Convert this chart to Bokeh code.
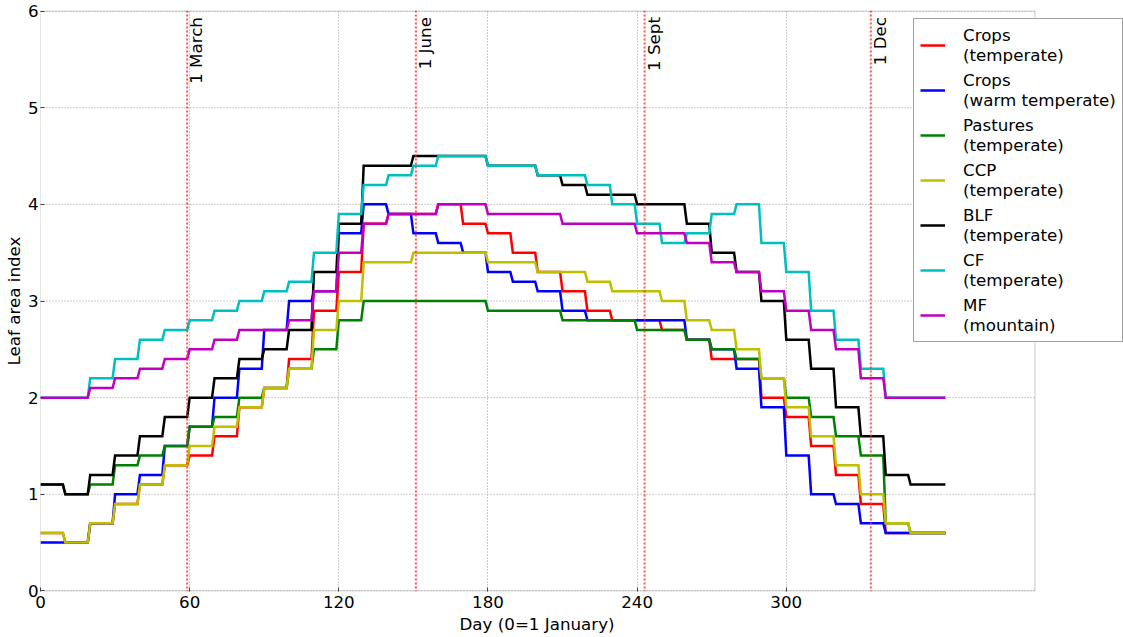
from bokeh.plotting import figure
from bokeh.models import (Span, Label, Legend, LegendItem, FixedTicker, Range1d, Title,
                          BoxAnnotation)
from bokeh.embed import file_html
from bokeh.resources import INLINE

# ---- data: leaf area index per 10-day period (day 0 = 1 January) ----
period_start = [0, 10, 20, 30, 40, 50, 60, 70, 80, 90, 100, 110, 120, 130, 140, 150, 160, 170,
                180, 190, 200, 210, 220, 230, 240, 250, 260, 270, 280, 290, 300, 310, 320, 330,
                340, 350, 360]
last_day = 364

crops_temperate = [0.6, 0.5, 0.7, 0.9, 1.1, 1.3, 1.4, 1.6, 1.9, 2.1, 2.4, 2.9, 3.3, 3.8, 3.9, 3.9, 4.0, 3.8,
                   3.7, 3.5, 3.3, 3.1, 2.9, 2.8, 2.8, 2.7, 2.6, 2.4, 2.4, 2.0, 1.8, 1.5, 1.2, 0.9,
                   0.6, 0.6, 0.6]
crops_warm = [0.5, 0.5, 0.7, 1.0, 1.2, 1.5, 1.7, 2.0, 2.3, 2.7, 3.0, 3.1, 3.7, 4.0, 3.9, 3.7, 3.6, 3.5,
              3.3, 3.2, 3.1, 2.9, 2.8, 2.8, 2.8, 2.8, 2.6, 2.5, 2.3, 1.9, 1.4, 1.0, 0.9, 0.7,
              0.6, 0.6, 0.6]
pastures = [1.1, 1.0, 1.1, 1.3, 1.4, 1.5, 1.7, 1.8, 2.0, 2.1, 2.3, 2.5, 2.8, 3.0, 3.0, 3.0, 3.0, 3.0,
            2.9, 2.9, 2.9, 2.8, 2.8, 2.8, 2.7, 2.7, 2.6, 2.5, 2.4, 2.2, 2.0, 1.8, 1.6, 1.4,
            0.7, 0.6, 0.6]
ccp = [0.6, 0.5, 0.7, 0.9, 1.1, 1.3, 1.5, 1.7, 1.9, 2.1, 2.3, 2.7, 3.0, 3.4, 3.4, 3.5, 3.5, 3.5,
       3.4, 3.4, 3.3, 3.3, 3.2, 3.1, 3.1, 3.0, 2.8, 2.7, 2.5, 2.2, 1.9, 1.6, 1.3, 1.0,
       0.7, 0.6, 0.6]
blf = [1.1, 1.0, 1.2, 1.4, 1.6, 1.8, 2.0, 2.2, 2.4, 2.5, 2.7, 3.3, 3.8, 4.4, 4.4, 4.5, 4.5, 4.5,
       4.4, 4.4, 4.3, 4.2, 4.1, 4.1, 4.0, 4.0, 3.8, 3.5, 3.3, 3.0, 2.6, 2.3, 1.9, 1.6,
       1.2, 1.1, 1.1]
cf = [2.0, 2.0, 2.2, 2.4, 2.6, 2.7, 2.8, 2.9, 3.0, 3.1, 3.2, 3.5, 3.9, 4.2, 4.3, 4.4, 4.5, 4.5,
      4.4, 4.4, 4.3, 4.3, 4.2, 4.0, 3.8, 3.6, 3.7, 3.9, 4.0, 3.6, 3.3, 2.9, 2.6, 2.3,
      2.0, 2.0, 2.0]
mf = [2.0, 2.0, 2.1, 2.2, 2.3, 2.4, 2.5, 2.6, 2.7, 2.7, 2.8, 3.1, 3.5, 3.8, 3.9, 3.9, 4.0, 4.0,
      3.9, 3.9, 3.9, 3.8, 3.8, 3.8, 3.7, 3.7, 3.6, 3.4, 3.3, 3.1, 2.9, 2.7, 2.5, 2.2,
      2.0, 2.0, 2.0]

series_names = ["Crops\n(temperate)", "Crops\n(warm temperate)", "Pastures\n(temperate)",
                "CCP\n(temperate)", "BLF\n(temperate)", "CF\n(temperate)", "MF\n(mountain)"]
series_values = [crops_temperate, crops_warm, pastures, ccp, blf, cf, mf]
series_colors = ["#ff0000", "#0000ff", "#008000", "#bfbf00", "#000000", "#00bfbf", "#bf00bf"]

month_days = [59, 151, 243, 334]
month_labels = ["1 March", "1 June", "1 Sept", "1 Dec"]

x_ticks = [0, 60, 120, 180, 240, 300]
y_ticks = [0, 1, 2, 3, 4, 5, 6]
x_max = 400      # right edge of the axes box
y_max = 6

FONT = "DejaVu Sans"
FS = "16.7px"
PX_PER_DAY = 2.486
FRAME_W = 1084   # drawing area runs to the window edge so the legend can overhang the axes box


def step_xy(vals):
    xs, ys = [], []
    for i, v in enumerate(vals):
        s = period_start[i]
        e = period_start[i + 1] - 1 if i + 1 < len(period_start) else last_day
        xs += [s, e]
        ys += [v, v]
    return xs, ys


p = figure(frame_width=FRAME_W, frame_height=581, output_backend="svg", toolbar_location=None,
           x_range=Range1d(0, FRAME_W / PX_PER_DAY), y_range=Range1d(-0.006, y_max + 0.006),
           min_border_left=31, min_border_right=0, min_border_top=10, min_border_bottom=0)
p.background_fill_color = "white"
p.border_fill_color = "white"
p.outline_line_color = None

# horizontal grid lines limited to the axes box
p.ygrid.visible = False
p.segment(x0=[0] * len(y_ticks), x1=[x_max] * len(y_ticks), y0=y_ticks, y1=y_ticks,
          line_color="#9a9a9a", line_dash="1 2", line_width=1)
p.xgrid.ticker = FixedTicker(ticks=x_ticks)
p.xgrid.grid_line_color = "#9a9a9a"
p.xgrid.grid_line_dash = "1 2"
p.xgrid.grid_line_width = 1

renderers = []
for name, vals, col in zip(series_names, series_values, series_colors):
    xs, ys = step_xy(vals)
    r = p.line(xs, ys, line_color=col, line_width=2.5, line_join="miter")
    renderers.append((name, r))

for d, lab in zip(month_days, month_labels):
    p.add_layout(Span(location=d, dimension="height", line_color="#ff2a2a",
                      line_dash="2 2", line_width=2, line_alpha=0.8))
    p.add_layout(Label(x=d, y=y_max, text=lab, angle=1.5708, angle_units="rad",
                       text_align="right", text_baseline="top",
                       text_font=FONT, text_font_size=FS, text_color="black",
                       x_offset=-1, y_offset=-6))

# axes box
p.add_layout(BoxAnnotation(left=0, right=x_max, bottom=0, top=y_max, fill_alpha=0,
                           line_color="#444444", line_width=1))

for ax in (p.xaxis[0], p.yaxis[0]):
    ax.axis_line_color = None
    ax.major_tick_in = 4
    ax.major_tick_out = 0
    ax.minor_tick_line_color = None
    ax.major_tick_line_color = "#444444"
    ax.major_label_text_font = FONT
    ax.major_label_text_font_size = FS
    ax.major_label_text_color = "black"
    ax.axis_label_text_font = FONT
    ax.axis_label_text_font_size = FS
    ax.axis_label_text_font_style = "normal"
    ax.axis_label_text_color = "black"

p.xaxis.ticker = FixedTicker(ticks=x_ticks)
p.yaxis.ticker = FixedTicker(ticks=y_ticks)
p.yaxis.axis_label = "Leaf area index"
p.xaxis.major_label_standoff = 4
p.yaxis.major_label_standoff = 2
p.yaxis.axis_label_standoff = 1

p.add_layout(Title(text="Day (0=1 January)", align="left", offset=419, standoff=3,
                   text_font=FONT, text_font_size=FS, text_font_style="normal",
                   text_color="black"), "below")

legend = Legend(items=[LegendItem(label=n, renderers=[r]) for n, r in renderers],
                location=(873, 249), orientation="vertical")
legend.label_text_font = FONT
legend.label_text_font_size = FS
legend.label_text_color = "black"
legend.label_standoff = 18
legend.glyph_width = 25
legend.glyph_height = 20
legend.padding = 6
legend.spacing = 5
legend.margin = 0
legend.border_line_color = "#444444"
legend.border_line_width = 1
legend.background_fill_color = "white"
legend.background_fill_alpha = 1.0
p.add_layout(legend, "center")

open("out.html", "w").write(file_html(p, INLINE))
